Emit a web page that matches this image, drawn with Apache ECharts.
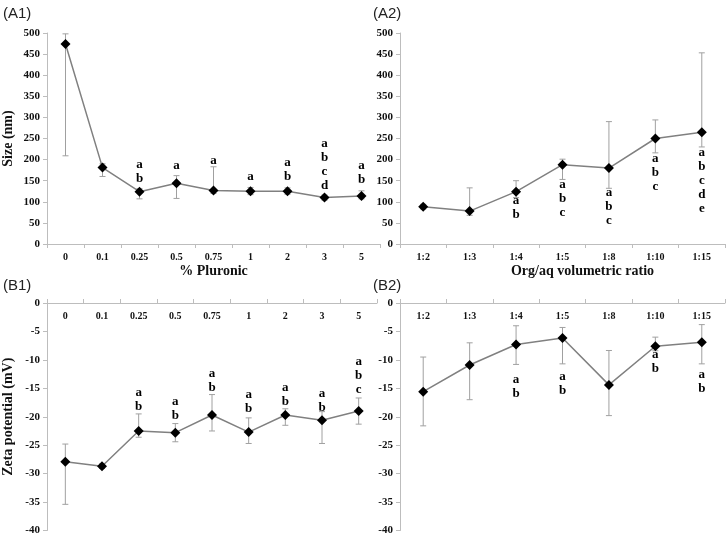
<!DOCTYPE html>
<html>
<head>
<meta charset="utf-8">
<script src="https://cdn.jsdelivr.net/npm/echarts@6/dist/echarts.min.js"></script>
<style>
  html, body { margin: 0; padding: 0; background: #fff; }
  #main { width: 727px; height: 536px; }
</style>
</head>
<body>
<div id="main"></div>
<script>
// categories
const pluronicCats = ["0", "0.1", "0.25", "0.5", "0.75", "1", "2", "3", "5"];
const ratioCats = ["1:2", "1:3", "1:4", "1:5", "1:8", "1:10", "1:15"];

// (A1) size vs % pluronic
const sizeA1 = [474, 181, 124, 144, 127, 125, 125, 110, 114];
const sizeA1Low = [209, 160, 107, 108, 120, 117, 118, 104, 107];
const sizeA1High = [498, 190, 131, 162, 183, 134, 133, 116, 126];
const lettersA1 = ["", "", "ab", "a", "a", "a", "ab", "abcd", "ab"];
const letterPosA1 = [null, null, 171, 185, 198, 160, 176, 187, 169];

// (A2) size vs org/aq ratio
const sizeA2 = [88, 78, 124, 188, 180, 250, 265];
const sizeA2Low = [83, 68, 110, 153, 132, 216, 230];
const sizeA2High = [94, 133, 150, 201, 290, 294, 453];
const lettersA2 = ["", "", "ab", "abc", "abc", "abc", "abcde"];
const letterPosA2 = [null, null, 85, 107, 88, 168, 150];

// (B1) zeta vs % pluronic
const zetaB1 = [-27.9, -28.7, -22.5, -22.8, -19.7, -22.7, -19.7, -20.6, -19.0];
const zetaB1Low = [-35.4, -29.1, -23.6, -24.4, -22.5, -24.7, -21.5, -24.7, -21.3];
const zetaB1High = [-24.8, -28.3, -19.5, -21.2, -16.1, -20.2, -18.6, -19.1, -16.7];
const lettersB1 = ["", "", "ab", "ab", "ab", "ab", "ab", "ab", "abc"];
const letterPosB1 = [null, null, -17.0, -18.6, -13.6, -17.4, -16.1, -17.1, -12.85];

// (B2) zeta vs org/aq ratio
const zetaB2 = [-15.6, -10.9, -7.3, -6.15, -14.4, -7.6, -6.9];
const zetaB2Low = [-21.6, -17.0, -10.8, -10.7, -19.8, -8.4, -10.7];
const zetaB2High = [-9.5, -7.0, -4.0, -4.3, -8.35, -6.0, -3.8];
const lettersB2 = ["", "", "ab", "ab", "", "ab", "ab"];
const letterPosB2 = [null, null, -14.7, -14.1, null, -10.3, -13.9];

const serif = "Liberation Serif";
const sans = "Liberation Sans";

function renderErr(params, api) {
  const x = api.value(0);
  const lo = api.coord([x, api.value(1)]);
  const hi = api.coord([x, api.value(2)]);
  const w = 3;
  const style = { stroke: "#a0a0a0", lineWidth: 1 };
  return {
    type: "group",
    children: [
      { type: "line", shape: { x1: lo[0], y1: lo[1], x2: hi[0], y2: hi[1] }, style: style },
      { type: "line", shape: { x1: lo[0] - w, y1: lo[1], x2: lo[0] + w, y2: lo[1] }, style: style },
      { type: "line", shape: { x1: hi[0] - w, y1: hi[1], x2: hi[0] + w, y2: hi[1] }, style: style },
    ],
  };
}

function panelSeries(idx, vals, low, high, letters, letterPos) {
  const errData = vals.map((v, i) => [i, low[i], high[i]]);
  const letterData = [];
  letters.forEach((t, i) => {
    if (t) letterData.push([i, letterPos[i], t]);
  });
  return [
    {
      type: "custom",
      xAxisIndex: idx,
      yAxisIndex: idx,
      renderItem: renderErr,
      encode: { x: 0, y: [1, 2] },
      data: errData,
      silent: true,
      z: 1,
    },
    {
      type: "line",
      xAxisIndex: idx,
      yAxisIndex: idx,
      data: vals,
      symbol: "diamond",
      symbolSize: 10,
      itemStyle: { color: "#000" },
      lineStyle: { color: "#808080", width: 1.5 },
      z: 3,
    },
    {
      type: "scatter",
      xAxisIndex: idx,
      yAxisIndex: idx,
      data: letterData,
      symbolSize: 1,
      silent: true,
      itemStyle: { color: "rgba(0,0,0,0)", opacity: 1 },
      label: {
        show: true,
        position: "inside",
        formatter: (p) => p.value[2].split("").join("\n"),
        fontFamily: serif,
        fontWeight: "bold",
        fontSize: 13,
        lineHeight: 14,
        color: "#000",
        opacity: 1,
      },
      z: 4,
    },
  ];
}

function xAxisCfg(idx, cats, name, nameShift, top) {
  return {
    type: "category",
    gridIndex: idx,
    data: cats,
    position: top ? "top" : "bottom",
    name: name,
    nameLocation: "middle",
    nameGap: 20,
    nameTextStyle: {
      fontFamily: serif,
      fontWeight: "bold",
      fontSize: 14,
      color: "#111",
      padding: [0, 0, 0, nameShift || 0],
    },
    axisLine: { onZero: false, lineStyle: { color: "#bdbdbd", width: 1 } },
    axisTick: { show: true, length: 4, lineStyle: { color: "#bdbdbd" } },
    axisLabel: {
      inside: !!top,
      fontFamily: serif,
      fontWeight: "bold",
      fontSize: 10,
      color: "#111",
      margin: 8,
    },
    splitLine: { show: false },
  };
}

function yAxisCfg(idx, min, max, interval, name) {
  return {
    type: "value",
    gridIndex: idx,
    min: min,
    max: max,
    interval: interval,
    name: name || "",
    nameLocation: "middle",
    nameGap: 32,
    nameTextStyle: { fontFamily: serif, fontWeight: "bold", fontSize: 14, color: "#111" },
    axisLine: { show: true, lineStyle: { color: "#bdbdbd", width: 1 } },
    axisTick: { show: true, length: 4, lineStyle: { color: "#bdbdbd" } },
    axisLabel: {
      fontFamily: serif,
      fontWeight: "bold",
      fontSize: 11,
      color: "#111",
      margin: 7,
    },
    splitLine: { show: false },
  };
}

const chart = echarts.init(document.getElementById("main"));
const titleStyle = { fontFamily: sans, fontWeight: "normal", fontSize: 15, color: "#222" };
const option = {
  animation: false,
  backgroundColor: "#fff",
  title: [
    { text: "(A1)", left: 3, top: 6, padding: 0, textStyle: titleStyle },
    { text: "(A2)", left: 373, top: 6, padding: 0, textStyle: titleStyle },
    { text: "(B1)", left: 3, top: 278, padding: 0, textStyle: titleStyle },
    { text: "(B2)", left: 373, top: 278, padding: 0, textStyle: titleStyle },
  ],
  grid: [
    { left: 46, top: 33, width: 334, height: 211 },
    { left: 400, top: 33, width: 325, height: 211 },
    { left: 46, top: 303, width: 331, height: 230 },
    { left: 400, top: 303, width: 325, height: 230 },
  ],
  xAxis: [
    xAxisCfg(0, pluronicCats, "% Pluronic"),
    xAxisCfg(1, ratioCats, "Org/aq volumetric ratio", 40),
    xAxisCfg(2, pluronicCats, "", 0, true),
    xAxisCfg(3, ratioCats, "", 0, true),
  ],
  yAxis: [
    yAxisCfg(0, 0, 500, 50, "Size (nm)"),
    yAxisCfg(1, 0, 500, 50),
    yAxisCfg(2, -40, 0, 5, "Zeta potential (mV)"),
    yAxisCfg(3, -40, 0, 5),
  ],
  series: [
    ...panelSeries(0, sizeA1, sizeA1Low, sizeA1High, lettersA1, letterPosA1),
    ...panelSeries(1, sizeA2, sizeA2Low, sizeA2High, lettersA2, letterPosA2),
    ...panelSeries(2, zetaB1, zetaB1Low, zetaB1High, lettersB1, letterPosB1),
    ...panelSeries(3, zetaB2, zetaB2Low, zetaB2High, lettersB2, letterPosB2),
  ],
};
chart.setOption(option);
</script>
</body>
</html>
